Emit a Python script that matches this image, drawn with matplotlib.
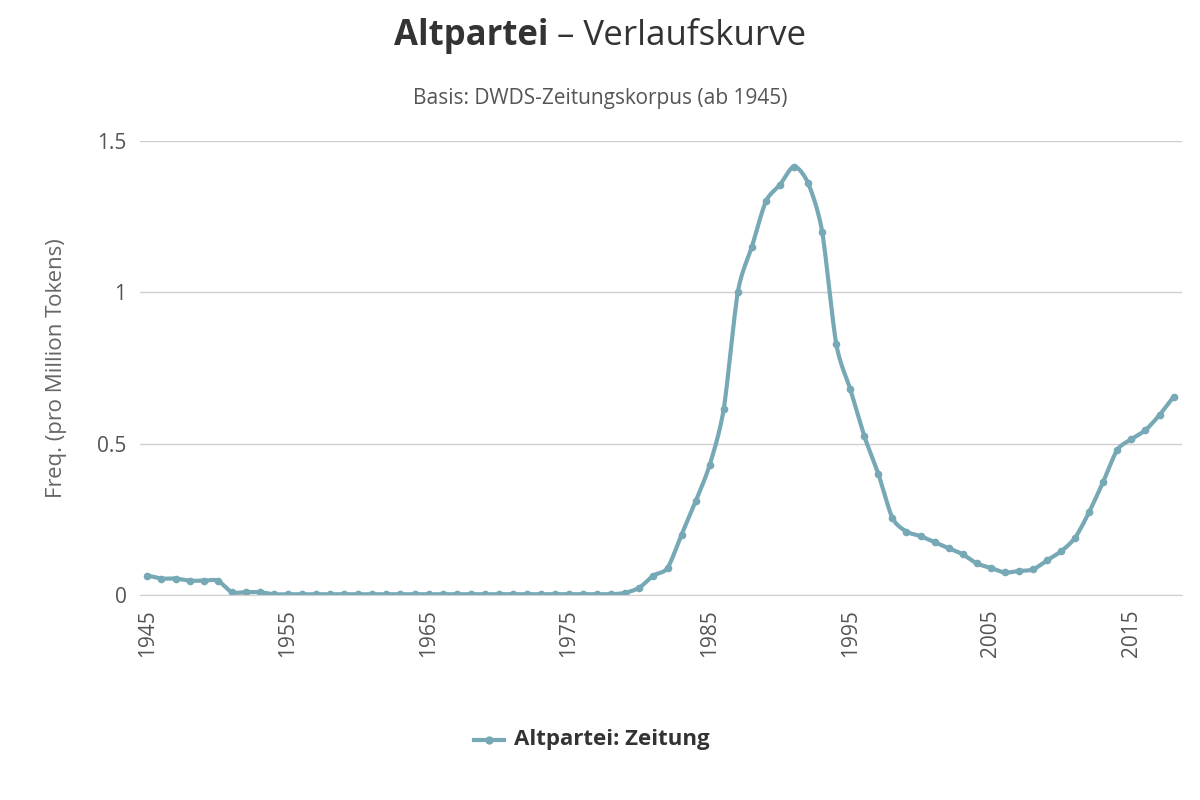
import numpy as np
import matplotlib
matplotlib.use('Agg')
import matplotlib.pyplot as plt

plt.rcParams.update({'font.family': 'Open Sans'})

years = list(range(1945, 2019))
freq = [0.065, 0.055, 0.055, 0.048, 0.048, 0.048, 0.010, 0.010, 0.010,
        0.003, 0.003, 0.003, 0.003, 0.003, 0.003, 0.003, 0.003, 0.003, 0.003,
        0.003, 0.003, 0.003, 0.003, 0.003, 0.003, 0.003, 0.003, 0.003, 0.003,
        0.003, 0.003, 0.003, 0.003, 0.003,
        0.008, 0.025, 0.065, 0.090, 0.200, 0.310, 0.430, 0.615, 1.000, 1.150,
        1.300, 1.355, 1.415, 1.360, 1.200, 0.830, 0.680, 0.525, 0.400, 0.255,
        0.210, 0.195, 0.175, 0.155, 0.135, 0.105, 0.090, 0.075, 0.080, 0.085,
        0.115, 0.145, 0.190, 0.275, 0.375, 0.480, 0.515, 0.545, 0.595, 0.655]
xticks = [1945, 1955, 1965, 1975, 1985, 1995, 2005, 2015]
yticks = [0, 0.5, 1, 1.5]
yticklabels = ['0', '0.5', '1', '1.5']
COLOR = '#76a9b5'


def catmull_rom(x, y, n=12):
    """Smooth line through the data points (spline-like rendering)."""
    x = np.asarray(x, float); y = np.asarray(y, float)
    px = np.concatenate([[x[0]], x, [x[-1]]])
    py = np.concatenate([[y[0]], y, [y[-1]]])
    xs, ys = [], []
    t = np.linspace(0, 1, n, endpoint=False)
    for i in range(1, len(px) - 2):
        for p, out in ((px, xs), (py, ys)):
            p0, p1, p2, p3 = p[i - 1], p[i], p[i + 1], p[i + 2]
            m1 = (p2 - p0) / 2 * 0.8
            m2 = (p3 - p1) / 2 * 0.8
            h00 = 2*t**3 - 3*t**2 + 1; h10 = t**3 - 2*t**2 + t
            h01 = -2*t**3 + 3*t**2; h11 = t**3 - t**2
            out.extend(h00*p1 + h10*m1 + h01*p2 + h11*m2)
    xs.append(x[-1]); ys.append(y[-1])
    return np.array(xs), np.array(ys)


fig = plt.figure(figsize=(12, 8), dpi=100)
ax = fig.add_axes([0.117, 0.256, 0.868, 0.568])
sx, sy = catmull_rom(years, freq)
ax.plot(sx, sy, color=COLOR, lw=3, solid_capstyle='round')
ax.plot(years, freq, 'o', color=COLOR, ms=4.5)

ax.set_xlim(1944.5, 2018.6)
ax.set_ylim(0, 1.5)
ax.set_xticks(xticks)
ax.set_xticklabels([str(v) for v in xticks], rotation=90, fontsize=15, color='#555555')
ax.set_yticks(yticks)
ax.set_yticklabels(yticklabels, fontsize=15, color='#555555')
ax.tick_params(axis='both', length=0, pad=10)
ax.grid(axis='y', color='#d0d0d0', lw=1)
for s in ax.spines.values():
    s.set_visible(False)
ax.spines['bottom'].set_visible(True)
ax.spines['bottom'].set_color('#d0d0d0')
ax.set_ylabel('Freq. (pro Million Tokens)', fontsize=16, color='#666666', labelpad=22)

# title: bold word + regular rest, centred together
renderer = fig.canvas.get_renderer()
t1 = fig.text(0, 0.955, 'Altpartei', ha='left', va='center', fontsize=25,
              fontweight='bold', color='#333333')
t2 = fig.text(0, 0.955, ' – Verlaufskurve', ha='left', va='center', fontsize=25,
              color='#333333')
w1 = t1.get_window_extent(renderer).width / fig.bbox.width
w2 = t2.get_window_extent(renderer).width / fig.bbox.width
x0 = 0.5 - (w1 + w2) / 2
t1.set_x(x0); t2.set_x(x0 + w1)

fig.text(0.5, 0.877, 'Basis: DWDS-Zeitungskorpus (ab 1945)', ha='center', va='center',
         fontsize=15, color='#555555')
fig.lines.append(plt.Line2D([0.395, 0.42], [0.075, 0.075], color=COLOR, lw=3,
                            transform=fig.transFigure))
fig.lines.append(plt.Line2D([0.4075], [0.075], color=COLOR, marker='o', ms=5,
                            transform=fig.transFigure))
fig.text(0.428, 0.075, 'Altpartei: Zeitung', ha='left', va='center', fontsize=16,
         fontweight='bold', color='#333333')

fig.savefig('out.png', dpi=100)
